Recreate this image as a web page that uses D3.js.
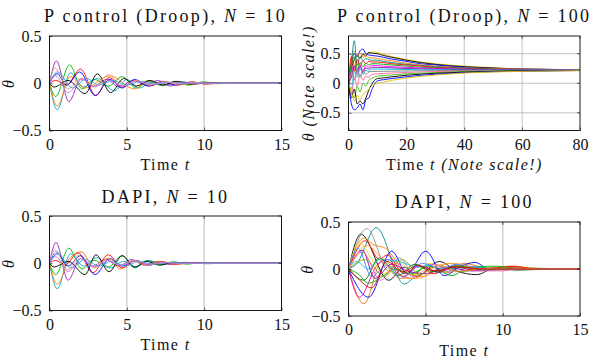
<!DOCTYPE html>
<html>
<head>
<meta charset="utf-8">
<script src="https://cdn.jsdelivr.net/npm/d3@7"></script>
<style>
  body { margin: 0; background: #fff; }
  svg { display: block; }
  text { font-family: "Liberation Serif", serif; fill: #111; }
</style>
</head>
<body>
<div id="chart"></div>
<script>
// ---------- data ----------
const xTicksShort = [0, 5, 10, 15];
const xTicksLong = [0, 20, 40, 60, 80];
const yTicks = [-0.5, 0, 0.5];

// P control (Droop), N = 10 : [t, theta] pairs at turning points
const colorsN10 = ["#a020c0", "#00b400", "#00a8c8", "#ff8000", "#ff0000",
                   "#0000ff", "#000000", "#e8a070", "#30a0f0", "#c080e0"];
const droopN10 = [
  [[0,0],[0.45,0.235],[1.25,-0.195],[2.05,0.05],[2.85,-0.03],[3.7,0.04],[4.5,-0.04],[5.4,0.03],[6.2,-0.02],[7.0,0.03],[7.8,-0.03],[8.6,0.015],[9.4,-0.01],[10.3,0.005],[11.5,0],[15,0]],
  [[0,0],[0.4,-0.14],[1.3,0.195],[2.1,-0.06],[2.9,0.04],[3.8,-0.03],[4.7,0.07],[5.6,-0.05],[6.4,0.02],[7.3,-0.025],[8.1,0.02],[9.0,-0.02],[9.9,0.015],[10.8,-0.005],[12,0],[15,0]],
  [[0,0],[0.5,-0.28],[1.35,0.11],[2.2,-0.04],[3.1,0.05],[4.2,-0.08],[5.0,0.04],[5.8,-0.05],[6.7,0.02],[7.5,-0.02],[8.4,0.02],[9.3,-0.01],[10.2,0.01],[11.2,0],[15,0]],
  [[0,0],[0.5,-0.24],[1.35,0.07],[2.3,-0.05],[3.9,0.08],[5.5,-0.06],[6.4,0.03],[7.3,-0.02],[8.2,0.02],[9.1,-0.015],[10.0,0.01],[11,0],[15,0]],
  [[0,0],[0.4,0.03],[1.1,-0.02],[2.0,0.15],[3.0,-0.13],[3.85,0.06],[4.7,-0.04],[5.6,0.03],[6.5,-0.03],[7.4,0.02],[8.3,-0.02],[9.2,0.015],[10.1,-0.01],[11,0],[15,0]],
  [[0,0],[0.5,0.1],[1.1,-0.02],[1.95,0.12],[2.95,-0.13],[3.9,0.04],[4.7,-0.05],[5.5,0.04],[6.4,-0.03],[7.3,0.02],[8.1,-0.02],[9.0,0.01],[10,0],[15,0]],
  [[0,0],[0.3,-0.04],[1.2,0.03],[2.3,-0.11],[3.1,0.1],[3.95,-0.1],[4.8,0.05],[5.6,-0.03],[6.5,0.03],[7.3,-0.02],[8.2,0.02],[9.1,-0.01],[10,0.005],[11,0],[15,0]],
  [[0,0],[0.35,0.16],[1.2,-0.06],[2.0,0.05],[2.9,-0.03],[3.8,0.09],[4.7,-0.03],[5.6,0.03],[6.5,-0.02],[7.4,0.02],[8.3,-0.01],[9.3,0.01],[10.5,0],[15,0]],
  [[0,0],[0.5,0.12],[1.5,-0.05],[2.4,0.05],[3.2,-0.02],[4.1,0.03],[5.0,-0.02],[5.9,0.02],[6.8,-0.01],[7.8,0.01],[9,0],[15,0]],
  [[0,0],[0.4,0.08],[1.2,-0.1],[2.1,0.04],[2.9,-0.04],[3.8,0.03],[4.7,-0.03],[5.6,0.02],[6.5,-0.01],[7.5,0.01],[9,0],[15,0]]
];

// DAPI, N = 10
const dapiN10 = [
  [[0,0],[0.42,0.22],[1.2,-0.18],[2.0,0.05],[2.8,-0.03],[3.6,0.04],[4.5,-0.03],[5.3,0.04],[6.1,-0.02],[6.9,0.02],[7.8,-0.015],[8.7,0.01],[9.6,0],[15,0]],
  [[0,0],[0.4,-0.12],[1.25,0.16],[2.1,-0.06],[2.9,0.03],[3.8,-0.04],[4.7,0.08],[5.5,-0.05],[6.3,0.03],[7.2,-0.02],[8.0,0.015],[8.9,-0.01],[9.8,0.005],[11,0],[15,0]],
  [[0,0],[0.5,-0.27],[1.35,0.1],[2.2,-0.03],[3.05,0.06],[3.9,-0.05],[4.8,0.02],[5.6,-0.04],[6.4,0.03],[7.3,-0.01],[8.2,0.01],[9.2,0],[15,0]],
  [[0,0],[0.5,-0.22],[1.3,0.05],[2.05,0.12],[2.9,-0.05],[3.7,0.05],[4.6,-0.06],[5.4,0.03],[6.2,-0.02],[7.1,0.02],[8.0,-0.01],[9,0],[15,0]],
  [[0,0],[0.4,0.03],[1.0,-0.02],[1.85,0.11],[2.8,-0.1],[3.8,0.09],[4.7,-0.05],[5.6,0.03],[6.4,-0.02],[7.3,0.015],[8.2,-0.01],[9.3,0.005],[10.2,-0.005],[11,0],[15,0]],
  [[0,0],[0.5,0.1],[1.2,-0.03],[2.0,0.08],[2.95,-0.12],[3.9,0.05],[4.7,-0.03],[5.5,0.03],[6.4,-0.02],[7.3,0.01],[8.5,0],[15,0]],
  [[0,0],[0.3,-0.04],[1.2,0.02],[2.3,-0.12],[3.0,0.09],[3.85,-0.09],[4.7,0.08],[5.5,-0.04],[6.3,0.02],[7.1,-0.02],[8.0,0.01],[9,0],[15,0]],
  [[0,0],[0.35,0.14],[1.2,-0.07],[2.05,0.12],[2.9,-0.04],[3.8,0.05],[4.6,-0.02],[5.5,0.03],[6.4,-0.02],[7.3,0.01],[8.5,0],[15,0]],
  [[0,0],[0.45,0.12],[1.4,-0.05],[2.3,0.04],[3.2,-0.03],[4.0,0.02],[4.9,-0.03],[5.8,0.02],[6.7,-0.01],[7.8,0.01],[9,0],[15,0]],
  [[0,0],[0.4,0.07],[1.2,-0.09],[2.0,0.05],[2.9,-0.04],[3.7,0.03],[4.6,-0.02],[5.5,0.02],[6.5,-0.01],[7.5,0.005],[8.5,0],[15,0]]
];

// P control (Droop), N = 100 : shared sample times, one value row per line
const droopN100Times = [0, 1, 2, 3, 4, 5, 6, 7, 8, 10, 12, 15, 20, 25, 30, 40, 50, 60, 80];
const colorsDroopN100 = ["#e6c300", "#000000", "#0000ff", "#ff8000", "#008b8b", "#ff0000",
                         "#00b000", "#ff00ff", "#8000a0", "#00c0e0", "#808080", "#ff60a0",
                         "#40c000", "#000000", "#0000ff", "#e6c300"];
const droopN100 = [
  [0, 0.15, 0.30, 0.38, 0.44, 0.47, 0.50, 0.52, 0.53, 0.52, 0.49, 0.45, 0.40, 0.36, 0.33, 0.29, 0.26, 0.24, 0.23],
  [0, 0.25, 0.40, 0.48, 0.42, 0.50, 0.46, 0.52, 0.51, 0.50, 0.47, 0.44, 0.39, 0.35, 0.32, 0.28, 0.26, 0.24, 0.23],
  [0, 0.35, 0.50, 0.45, 0.55, 0.58, 0.50, 0.48, 0.47, 0.46, 0.44, 0.41, 0.37, 0.33, 0.31, 0.27, 0.25, 0.24, 0.23],
  [0, 0.40, 0.55, 0.45, 0.52, 0.44, 0.47, 0.43, 0.43, 0.42, 0.40, 0.38, 0.34, 0.31, 0.29, 0.26, 0.25, 0.24, 0.23],
  [0, 0.35, 0.72, 0.30, 0.45, 0.38, 0.42, 0.40, 0.39, 0.39, 0.37, 0.35, 0.32, 0.30, 0.28, 0.26, 0.24, 0.23, 0.225],
  [0, 0.45, 0.20, 0.40, 0.30, 0.38, 0.33, 0.37, 0.36, 0.36, 0.35, 0.33, 0.31, 0.29, 0.27, 0.25, 0.24, 0.23, 0.224],
  [0, 0.30, 0.45, 0.25, 0.35, 0.28, 0.34, 0.31, 0.33, 0.33, 0.32, 0.31, 0.29, 0.27, 0.26, 0.24, 0.235, 0.229, 0.223],
  [0, 0.20, 0.30, 0.15, 0.28, 0.22, 0.30, 0.27, 0.30, 0.30, 0.29, 0.28, 0.27, 0.26, 0.25, 0.24, 0.23, 0.226, 0.222],
  [0, 0.10, 0.28, 0.20, 0.30, 0.18, 0.26, 0.24, 0.27, 0.27, 0.265, 0.26, 0.25, 0.243, 0.239, 0.231, 0.227, 0.224, 0.222],
  [0, -0.10, 0.20, 0.10, 0.25, 0.15, 0.22, 0.20, 0.24, 0.24, 0.238, 0.236, 0.232, 0.229, 0.227, 0.224, 0.223, 0.222, 0.221],
  [0, 0.20, 0.05, 0.25, 0.10, 0.22, 0.15, 0.19, 0.20, 0.20, 0.202, 0.204, 0.208, 0.211, 0.213, 0.216, 0.217, 0.218, 0.219],
  [0, -0.20, 0.10, -0.05, 0.15, 0.05, 0.12, 0.10, 0.15, 0.16, 0.166, 0.173, 0.183, 0.192, 0.198, 0.207, 0.212, 0.215, 0.218],
  [0, -0.15, -0.25, -0.05, -0.15, 0.00, -0.05, 0.05, 0.08, 0.12, 0.13, 0.14, 0.16, 0.17, 0.18, 0.20, 0.21, 0.21, 0.22],
  [0, -0.25, -0.10, -0.35, -0.30, -0.35, -0.25, -0.12, -0.02, 0.08, 0.09, 0.11, 0.135, 0.154, 0.168, 0.189, 0.201, 0.209, 0.216],
  [0, -0.35, -0.45, -0.42, -0.35, -0.45, -0.28, -0.25, -0.12, 0.04, 0.06, 0.08, 0.11, 0.135, 0.153, 0.18, 0.196, 0.206, 0.215],
  [0, -0.15, -0.30, -0.20, -0.28, -0.18, -0.15, -0.10, -0.05, 0.0, 0.02, 0.05, 0.086, 0.117, 0.139, 0.172, 0.19, 0.202, 0.213]
];

// DAPI, N = 100 : [t, theta] pairs at turning points
const colorsDapiN100 = ["#000000", "#909090", "#009090", "#ff8000", "#e07020", "#ff00a0",
                        "#0000ff", "#ff0000", "#f0e000", "#00b000", "#00c0ff", "#8000a0",
                        "#008000", "#ff60c0", "#a0a000", "#4080ff", "#ffa040", "#d00000"];
const dapiN100 = [
  [[0,0],[0.8,0.37],[2.6,-0.12],[3.6,0.02],[4.4,-0.08],[5.9,0.08],[7.0,-0.02],[8.3,-0.06],[9.5,0.01],[11,-0.01],[13,0],[15,0]],
  [[0,0],[1.2,0.43],[2.6,-0.02],[3.3,0.12],[4.2,-0.05],[5.2,0.04],[6.3,-0.03],[7.5,0.03],[9,0],[15,0]],
  [[0,0],[0.5,0.05],[1.8,0.44],[3.6,-0.16],[5.0,0.02],[5.8,-0.04],[7.0,0.04],[8.5,-0.02],[10,0.01],[15,0]],
  [[0,0],[1.0,0.33],[1.6,0.26],[2.4,0.22],[3.8,-0.05],[4.8,-0.08],[6.5,0.06],[7.5,0.02],[9,-0.01],[11,0.02],[13,0],[15,0]],
  [[0,0],[1.0,-0.37],[2.2,0.1],[3.2,-0.05],[4.2,-0.1],[5.5,0.02],[6.4,-0.04],[7.5,0.06],[9,0.01],[10.5,0.03],[12,0],[15,0]],
  [[0,0],[0.7,-0.30],[1.9,0.05],[2.6,0.1],[3.5,-0.08],[4.6,0.03],[5.8,-0.03],[7,0.02],[8.5,0],[15,0]],
  [[0,0],[1.3,-0.30],[2.8,0.19],[3.8,-0.05],[5.0,0.19],[6.2,-0.07],[7.3,0.03],[8.2,0.07],[9.2,-0.01],[10.5,0.01],[12,0],[15,0]],
  [[0,0],[1.1,0.30],[2.0,0.10],[2.5,0.15],[3.6,-0.05],[4.5,0.03],[5.5,-0.05],[6.8,0.03],[8,-0.01],[10.8,0.03],[12,0],[15,0]],
  [[0,0],[0.7,0.28],[1.6,0.08],[2.3,-0.05],[3.2,0.08],[4.3,-0.06],[5.2,0.06],[6.5,0.0],[7.6,0.03],[9,0],[15,0]],
  [[0,0],[0.6,-0.05],[1.3,-0.15],[2.2,-0.08],[3.0,0.0],[4.0,-0.05],[5.2,0.03],[6.7,-0.07],[7.8,0.02],[9.6,0.03],[11,0],[15,0]],
  [[0,0],[0.5,0.08],[1.3,0.0],[2.0,0.1],[3.3,0.08],[4.5,0.02],[5.5,0.05],[6.5,0.0],[8,0.02],[10,0],[15,0]],
  [[0,0],[0.9,0.2],[1.7,-0.10],[2.8,0.05],[3.8,-0.02],[5.0,-0.05],[6.3,0.02],[8,-0.02],[9.5,0],[15,0]],
  [[0,0],[1.0,-0.12],[2.0,0.12],[3.2,-0.07],[4.3,0.05],[5.5,-0.03],[7,0.03],[9,-0.01],[15,0]],
  [[0,0],[0.9,0.18],[2.1,-0.12],[3.1,0.06],[4.2,-0.08],[5.5,0.05],[6.8,-0.02],[9.9,-0.02],[11,0],[15,0]],
  [[0,0],[1.1,0.1],[2.3,-0.08],[3.5,0.1],[4.6,-0.06],[5.8,0.04],[7.2,-0.03],[8.8,0.01],[15,0]],
  [[0,0],[0.6,0.22],[1.5,-0.08],[2.5,0.04],[3.4,-0.1],[4.8,0.06],[6,0.0],[7,0.05],[9,0],[15,0]],
  [[0,0],[1.2,0.25],[2.4,0.05],[3.3,-0.1],[4.6,-0.1],[5.8,0.04],[7,0.06],[8.5,0.0],[15,0]],
  [[0,0],[0.6,-0.1],[1.5,-0.2],[2.5,0.08],[3.5,-0.03],[4.5,0.04],[5.6,-0.02],[7,0.02],[9,0],[15,0]]
];

// ---------- drawing ----------
const W = 596, H = 363;
const svg = d3.select("#chart").append("svg").attr("width", W).attr("height", H);
const fmt = d3.format("");
const serif = "\"Liberation Serif\", serif";

const panels = [
  { left: 49.5, top: 36, width: 232, height: 94.5, xDomain: [0, 15], yDomain: [-0.5, 0.5],
    xTicks: xTicksShort, xGrid: [5, 10], yGrid: [], series: droopN10, colors: colorsN10,
    title: ["P control (Droop), ", "N", " = 10"], titleY: 21.5, longLabels: false },
  { left: 348.5, top: 36, width: 231.5, height: 94.5, xDomain: [0, 80], yDomain: [-0.8, 0.8],
    xTicks: xTicksLong, xGrid: [20, 40, 60], yGrid: [-0.5, 0, 0.5],
    series: droopN100.map(row => row.map((v, i) => [droopN100Times[i], v])), colors: colorsDroopN100,
    title: ["P control (Droop), ", "N", " = 100"], titleY: 21.5, longLabels: true },
  { left: 49.5, top: 216, width: 232, height: 94.5, xDomain: [0, 15], yDomain: [-0.5, 0.5],
    xTicks: xTicksShort, xGrid: [5, 10], yGrid: [], series: dapiN10, colors: colorsN10,
    title: ["DAPI, ", "N", " = 10"], titleY: 202.5, longLabels: false },
  { left: 348.5, top: 222, width: 231.5, height: 94, xDomain: [0, 15], yDomain: [-0.5, 0.5],
    xTicks: xTicksShort, xGrid: [5, 10], yGrid: [], series: dapiN100, colors: colorsDapiN100,
    title: ["DAPI, ", "N", " = 100"], titleY: 208, longLabels: false }
];

panels.forEach((p, idx) => drawPanel(p, idx));

function drawPanel(p, idx) {
  const g = svg.append("g").attr("transform", `translate(${p.left},${p.top})`);
  const x = d3.scaleLinear().domain(p.xDomain).range([0, p.width]);
  const y = d3.scaleLinear().domain(p.yDomain).range([p.height, 0]);

  // grid
  g.selectAll(".vgrid").data(p.xGrid).join("line")
    .attr("x1", d => x(d)).attr("x2", d => x(d))
    .attr("y1", 0).attr("y2", p.height)
    .attr("stroke", idx === 1 ? "#b4b4b4" : "#cfcfcf")
    .attr("stroke-width", idx === 1 ? 0.8 : 1.4);
  g.selectAll(".hgrid").data(p.yGrid).join("line")
    .attr("x1", 0).attr("x2", p.width)
    .attr("y1", d => y(d)).attr("y2", d => y(d))
    .attr("stroke", "#b4b4b4").attr("stroke-width", 0.8);

  // lines
  const clipId = "clip" + idx;
  g.append("clipPath").attr("id", clipId)
    .append("rect").attr("width", p.width).attr("height", p.height);
  const line = d3.line().x(d => x(d[0])).y(d => y(d[1])).curve(d3.curveMonotoneX);
  g.append("g").attr("clip-path", `url(#${clipId})`)
    .selectAll("path").data(p.series).join("path")
    .attr("fill", "none")
    .attr("stroke", (d, i) => p.colors[i % p.colors.length])
    .attr("stroke-width", 0.9)
    .attr("d", line);

  // axes (inward ticks)
  const xAxis = d3.axisBottom(x).tickValues(p.xTicks).tickFormat(fmt)
    .tickSizeInner(-3).tickSizeOuter(0).tickPadding(8);
  const yAxis = d3.axisLeft(y).tickValues(yTicks).tickFormat(fmt)
    .tickSizeInner(-3).tickSizeOuter(0).tickPadding(8);
  const gx = g.append("g").attr("transform", `translate(0,${p.height})`).call(xAxis);
  const gy = g.append("g").call(yAxis);
  [gx, gy].forEach(a => {
    a.select(".domain").remove();
    a.selectAll("line").attr("stroke", "#000").attr("stroke-width", 0.6);
    a.selectAll("text").style("font-size", "16px").style("font-family", serif).style("fill", "#111");
  });
  // top / right inward ticks
  g.selectAll(".tt").data(p.xTicks).join("line")
    .attr("x1", d => x(d)).attr("x2", d => x(d)).attr("y1", 0).attr("y2", 3)
    .attr("stroke", "#000").attr("stroke-width", 0.6);
  g.selectAll(".rt").data(yTicks).join("line")
    .attr("x1", p.width).attr("x2", p.width - 3).attr("y1", d => y(d)).attr("y2", d => y(d))
    .attr("stroke", "#000").attr("stroke-width", 0.6);

  // frame
  g.append("rect").attr("width", p.width).attr("height", p.height)
    .attr("fill", "none").attr("stroke", "#000").attr("stroke-width", 0.9);

  // title
  const t = g.append("text").attr("x", p.width / 2).attr("y", p.titleY - p.top)
    .attr("text-anchor", "middle")
    .style("font-size", "18px").style("letter-spacing", "2.3px");
  t.append("tspan").text(p.title[0]);
  t.append("tspan").attr("font-style", "italic").text(p.title[1]);
  t.append("tspan").text(p.title[2]);

  // x label
  const xl = g.append("text").attr("x", p.width / 2).attr("y", p.height + 39.5)
    .attr("text-anchor", "middle")
    .style("font-size", "16px").style("letter-spacing", "1.4px");
  xl.append("tspan").text("Time ");
  xl.append("tspan").attr("font-style", "italic").text("t");
  if (p.longLabels) xl.append("tspan").attr("font-style", "italic").text(" (Note scale!)");

  // y label
  const yl = g.append("text")
    .attr("transform", `translate(${p.longLabels ? -34.5 : -36},${p.height / 2}) rotate(-90)`)
    .attr("text-anchor", "middle")
    .style("font-size", "16px").style("letter-spacing", "1.4px");
  yl.append("tspan").attr("font-style", "italic").text("θ");
  if (p.longLabels) yl.append("tspan").attr("font-style", "italic").text(" (Note scale!)");
}
</script>
</body>
</html>
